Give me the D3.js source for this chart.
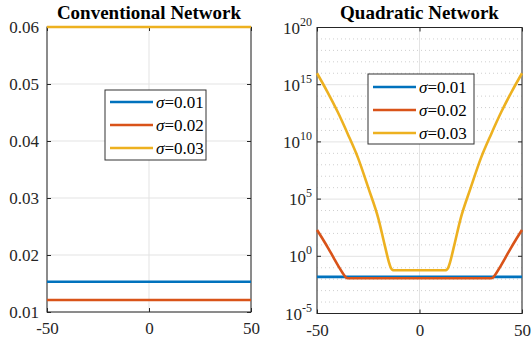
<!DOCTYPE html>
<html>
<head>
<meta charset="utf-8">
<script src="https://cdn.jsdelivr.net/npm/d3@7"></script>
<style>
  body { margin: 0; background: #fff; }
  svg { display: block; font-family: "Liberation Serif", "Times New Roman", Times, serif; }
</style>
</head>
<body>
<div id="chart"></div>
<script>
// legend / series labels
const sigmas = ["0.01", "0.02", "0.03"];
const colors = ["#0072BD", "#D95319", "#EDB120"];

// Conventional network: flat lines over x
const convX = [-50, 50];
const convBlue = [0.0153, 0.0153];
const convOrange = [0.0121, 0.0121];
const convYellow = [0.06, 0.06];
const convTicks = [0.01, 0.02, 0.03, 0.04, 0.05, 0.06];

// Quadratic network (log scale)
const quadBlueX = [-50, 50];
const quadBlue = [0.016, 0.016];
const quadOrangeX = [-50, -47, -44.5, -42, -39.5, -37.5, -36, -35, 35, 36, 37.5, 39.5, 42, 44.5, 47, 50];
const quadOrange = [200, 28, 5, 0.8, 0.13, 0.035, 0.015, 0.0121, 0.0121, 0.015, 0.035, 0.13, 0.8, 5, 28, 200];
const quadYellowX = [-50, -45, -40, -35, -30, -25, -20, -17, -15, -14, -13.2, -12.5,
                     12.5, 13.2, 14, 15, 17, 20, 25, 30, 35, 40, 45, 50];
const quadYellow = [1e16, 2.5e14, 4.5e12, 5e10, 4e8, 1e6, 1.8e3, 10, 0.35, 0.1, 0.065, 0.06,
                    0.06, 0.065, 0.1, 0.35, 10, 1.8e3, 1e6, 4e8, 5e10, 4.5e12, 2.5e14, 1e16];
const quadMajor = [-5, 0, 5, 10, 15, 20];

const xTicks = [-50, 0, 50];

const W = 531, H = 343;
const svg = d3.select("#chart").append("svg").attr("width", W).attr("height", H);

const axisColor = "#262626";
const gridColor = "#e3e3e3";
const serif = "'Liberation Serif', 'Times New Roman', serif";

function panel(left, right, title) {
  const x = d3.scaleLinear().domain([-50, 50]).range([left, right]);
  const g = svg.append("g");
  g.append("text")
    .attr("x", (left + right) / 2).attr("y", 19)
    .attr("text-anchor", "middle")
    .style("font-weight", "bold").style("font-size", "19px")
    .text(title);
  return { x, g };
}

function drawLine(g, x, y, xs, ys, color) {
  const line = d3.line().x((d, i) => x(xs[i])).y(d => y(d)).curve(d3.curveMonotoneX);
  g.append("path").datum(ys)
    .attr("d", line)
    .attr("fill", "none")
    .attr("stroke", color)
    .attr("stroke-width", 2.6);
}

function legend(g, lx, ly, w, h, rowY) {
  g.append("rect").attr("x", lx).attr("y", ly).attr("width", w).attr("height", h)
    .attr("fill", "#fff").attr("stroke", "#333").attr("stroke-width", 1);
  sigmas.forEach((s, i) => {
    const yy = ly + rowY[i];
    g.append("line").attr("x1", lx + 5).attr("x2", lx + 48).attr("y1", yy).attr("y2", yy)
      .attr("stroke", colors[i]).attr("stroke-width", 2.6);
    const t = g.append("text").attr("x", lx + 51).attr("y", yy + 6).style("font-size", "17px");
    t.append("tspan").style("font-style", "italic").text("σ");
    t.append("tspan").text("=" + s);
  });
}

function box(g, left, right, top, bottom) {
  g.append("rect").attr("x", left).attr("y", top)
    .attr("width", right - left).attr("height", bottom - top)
    .attr("fill", "none").attr("stroke", axisColor).attr("stroke-width", 1);
}

function styleAxis(a) {
  a.attr("font-family", null);
  a.select(".domain").remove();
  a.selectAll("line").attr("stroke", axisColor);
  a.selectAll("text").attr("fill", axisColor).style("font-size", "17px").style("font-family", serif);
}

const fmtX = d => d < 0 ? "-" + Math.abs(d) : d;

// ---------- left panel ----------
{
  const L = 47, R = 251, T = 27, B = 312;
  const { x, g } = panel(L, R, "Conventional Network");
  const y = d3.scaleLinear().domain([0.01, 0.06]).range([B, T]);

  g.selectAll(".gy").data(convTicks).enter().append("line")
    .attr("x1", L).attr("x2", R).attr("y1", d => y(d)).attr("y2", d => y(d))
    .attr("stroke", gridColor);
  g.selectAll(".gx").data(xTicks).enter().append("line")
    .attr("y1", T).attr("y2", B).attr("x1", d => x(d)).attr("x2", d => x(d))
    .attr("stroke", gridColor);

  box(g, L, R, T, B);

  styleAxis(g.append("g").attr("transform", `translate(${L},0)`)
    .call(d3.axisLeft(y).tickValues(convTicks).tickSize(-4).tickPadding(8).tickFormat(d3.format(".2f"))));
  styleAxis(g.append("g").attr("transform", `translate(${R},0)`)
    .call(d3.axisRight(y).tickValues(convTicks).tickSize(-4).tickFormat("")));
  styleAxis(g.append("g").attr("transform", `translate(0,${B})`)
    .call(d3.axisBottom(x).tickValues(xTicks).tickSize(-4).tickPadding(10).tickFormat(fmtX)));
  styleAxis(g.append("g").attr("transform", `translate(0,${T})`)
    .call(d3.axisTop(x).tickValues(xTicks).tickSize(-4).tickFormat("")));

  drawLine(g, x, y, convX, convBlue, colors[0]);
  drawLine(g, x, y, convX, convOrange, colors[1]);
  drawLine(g, x, y, convX, convYellow, colors[2]);

  legend(g, 105, 90, 101, 70, [12, 35, 58]);
}

// ---------- right panel ----------
{
  const L = 317, R = 522, T = 27.5, B = 313.5;
  const { x, g } = panel(L, R, "Quadratic Network");
  const y = d3.scaleLog().domain([1e-5, 1e20]).range([B, T]);
  const p10 = e => y(Math.pow(10, e));

  const minor = d3.range(-4, 20).filter(e => e % 5 !== 0);
  g.selectAll(".gm").data(minor).enter().append("line")
    .attr("x1", L).attr("x2", R).attr("y1", p10).attr("y2", p10)
    .attr("stroke", "#cfcfcf").attr("stroke-dasharray", "1,3");
  g.selectAll(".gy").data(quadMajor).enter().append("line")
    .attr("x1", L).attr("x2", R).attr("y1", p10).attr("y2", p10)
    .attr("stroke", gridColor);
  g.selectAll(".gx").data(xTicks).enter().append("line")
    .attr("y1", T).attr("y2", B).attr("x1", d => x(d)).attr("x2", d => x(d))
    .attr("stroke", gridColor);

  box(g, L, R, T, B);

  g.selectAll(".tl").data(quadMajor).enter().append("line")
    .attr("x1", L).attr("x2", L + 4).attr("y1", p10).attr("y2", p10)
    .attr("stroke", axisColor);
  g.selectAll(".tr").data(quadMajor).enter().append("line")
    .attr("x1", R).attr("x2", R - 4).attr("y1", p10).attr("y2", p10)
    .attr("stroke", axisColor);
  const lbl = g.selectAll(".yl").data(quadMajor).enter().append("text")
    .attr("x", L - 5).attr("y", d => p10(d) + 6)
    .attr("text-anchor", "end").attr("fill", axisColor).style("font-size", "17px");
  lbl.append("tspan").text("10");
  lbl.append("tspan").attr("dy", -8).style("font-size", "12px").text(d => d < 0 ? "-" + Math.abs(d) : d);

  styleAxis(g.append("g").attr("transform", `translate(0,${B})`)
    .call(d3.axisBottom(x).tickValues(xTicks).tickSize(-4).tickPadding(10).tickFormat(fmtX)));
  styleAxis(g.append("g").attr("transform", `translate(0,${T})`)
    .call(d3.axisTop(x).tickValues(xTicks).tickSize(-4).tickFormat("")));

  drawLine(g, x, y, quadBlueX, quadBlue, colors[0]);
  drawLine(g, x, y, quadOrangeX, quadOrange, colors[1]);
  drawLine(g, x, y, quadYellowX, quadYellow, colors[2]);

  legend(g, 368, 74, 106, 70, [13, 36, 59]);
}
</script>
</body>
</html>
